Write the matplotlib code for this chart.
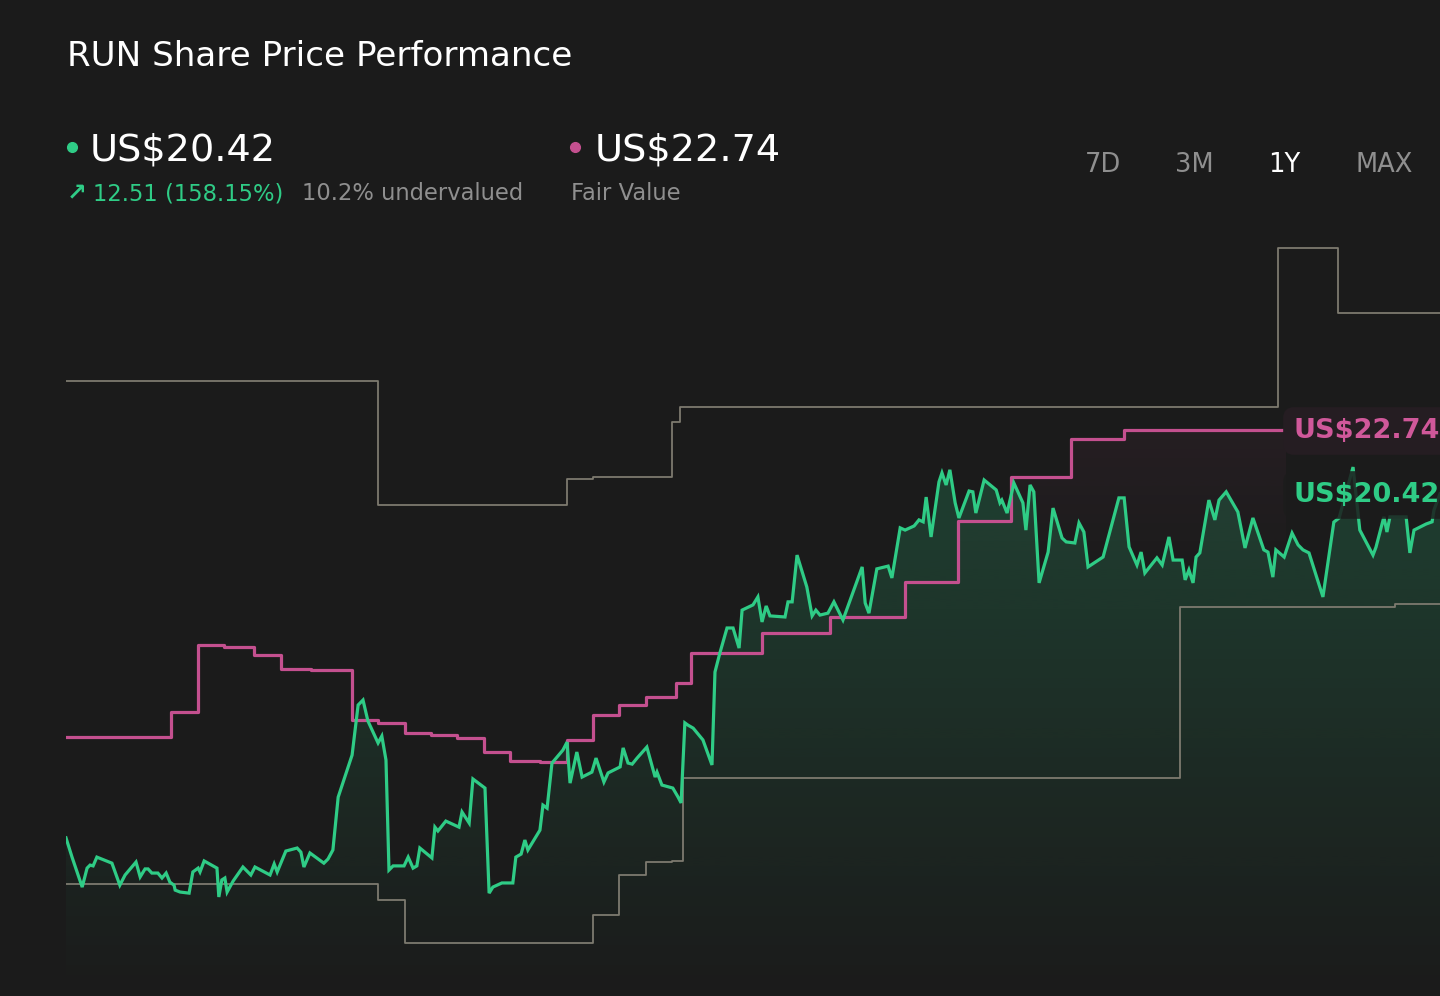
import numpy as np
import matplotlib.pyplot as plt
from matplotlib.colors import to_rgb
from matplotlib.lines import Line2D

W, H = 1440, 996
BG = '#1b1b1b'
GREEN = '#2fcc86'
PINK = '#c4508f'
GRAY_LINE = '#7d7a6f'
GRAY_TEXT = '#8f8f8f'

# share price (day of the year, US$)
price_days = [0, 1.6, 4.3, 5.6, 6.4, 7.2, 8.2, 12.2, 14.3, 15.7, 18.6, 19.7, 21.0, 21.8, 22.8,
              24.4, 25.5, 26.6, 27.6, 28.7, 29.0, 30.3, 32.7, 33.7, 35.1, 35.6, 36.7, 40.1, 40.6,
              41.4, 42.2, 42.8, 44.4, 47.0, 49.1, 50.2, 54.2, 55.3, 56.1, 58.4, 61.4, 62.4, 63.2,
              64.8, 68.5, 69.6, 70.9, 72.3, 76.0, 77.6, 78.9, 80.2, 82.9, 83.9, 85.0, 85.8, 86.9,
              89.8, 90.9, 92.2, 93.2, 94.0, 97.2, 98.0, 98.8, 100.9, 104.4, 105.2, 107.1, 108.1,
              111.3, 112.4, 113.4, 115.8, 118.7, 119.5, 120.9, 121.9, 122.7, 125.9, 126.7, 127.8,
              129.1, 132.0, 133.1, 133.9, 135.7, 137.1, 139.7, 140.8, 142.9, 144.0, 147.2, 148.0,
              149.3, 150.4, 151.7, 154.3, 156.5, 157.0, 158.3, 161.2, 162.6, 163.4, 164.4, 165.2,
              166.6, 169.2, 171.6, 172.4, 173.7, 175.6, 177.2, 178.8, 179.6, 182.5, 183.8, 184.9,
              186.0, 187.0, 191.0, 191.8, 192.9, 194.2, 196.8, 198.2, 199.2, 200.3, 202.4, 204.0,
              206.4, 211.5, 212.3, 213.3, 215.4, 218.4, 219.4, 221.6, 222.9, 225.3, 226.6, 227.7,
              228.5, 229.8, 231.9, 232.7, 233.8, 234.8, 236.2, 237.2, 239.9, 240.9, 241.7, 243.9,
              247.1, 248.1, 248.6, 250.0, 251.8, 254.2, 255.0, 256.1, 257.1, 258.5, 260.9, 262.2,
              264.6, 265.7, 268.0, 269.1, 270.4, 271.5, 275.5, 279.7, 281.1, 282.4, 284.5, 285.6,
              286.6, 289.8, 291.2, 293.0, 294.1, 296.5, 297.3, 298.3, 299.4, 300.2, 301.2, 303.6,
              305.2, 306.3, 308.2, 311.3, 313.2, 315.3, 318.2, 319.3, 320.6, 321.4, 323.6, 325.7,
              327.3, 328.6, 330.2, 333.9, 336.8, 338.2, 341.9, 343.7, 347.2, 348.0, 350.1, 350.9,
              351.7, 356.0, 357.0, 358.1, 361.3, 362.9, 363.4, 365]
price = [7.91, 7.21, 6.12, 6.81, 6.92, 6.89, 7.21, 6.99, 6.19, 6.56, 7.03, 6.49, 6.78, 6.78, 6.63,
         6.63, 6.45, 6.63, 6.30, 6.19, 6.01, 5.94, 5.90, 6.67, 6.81, 6.67, 7.07, 6.81, 5.76,
         6.38, 6.45, 5.94, 6.34, 6.85, 6.56, 6.85, 6.56, 6.96, 6.67, 7.43, 7.54, 7.39, 6.85,
         7.36, 6.99, 7.14, 7.47, 9.39, 10.92, 12.74, 12.92, 12.16, 11.36, 11.61, 10.74, 6.74, 6.89,
         6.89, 7.21, 6.81, 6.89, 7.54, 7.18, 8.30, 8.16, 8.52, 8.30, 8.85, 8.45, 10.05,
         9.72, 5.90, 6.12, 6.27, 6.27, 7.21, 7.32, 7.83, 7.47, 8.19, 9.10, 8.99,
         10.63, 11.10, 11.39, 9.90, 11.03, 10.12, 10.30, 10.81, 9.94, 10.27, 10.49, 11.18,
         10.63, 10.59, 10.81, 11.21, 10.12, 10.30, 9.83, 9.72, 9.39, 9.18, 12.09, 12.01,
         11.90, 11.47, 10.56, 13.94, 14.63, 15.54, 15.54, 14.81, 16.19, 16.38, 16.67, 15.76,
         16.34, 15.98, 15.94, 16.49, 16.49, 18.19, 17.03, 15.98, 16.19, 16.01, 16.08, 16.49,
         15.83, 17.76, 16.45, 16.08, 17.69, 17.79, 17.36, 19.18, 19.10, 19.25, 19.47, 19.40,
         20.30, 18.85, 20.85, 21.18, 20.74, 21.29, 20.09, 19.54, 20.52, 20.49, 19.72, 20.92,
         20.56, 20.09, 20.19, 19.72, 20.81, 20.09, 19.10, 20.74, 20.49, 17.18, 18.30, 19.90,
         18.81, 18.67, 18.63, 19.36, 19.03, 17.76, 18.12, 20.27, 20.27, 18.49, 17.83, 18.30,
         17.54, 18.09, 17.83, 18.85, 18.01, 18.01, 17.29, 17.65, 17.18, 18.12, 18.27, 20.19,
         19.47, 20.19, 20.49, 19.76, 18.45, 19.54, 18.38, 18.30, 17.39, 18.38, 18.12, 18.99,
         18.56, 18.38, 18.27, 16.67, 19.39, 19.54, 21.39, 19.10, 18.19, 18.48, 19.58, 19.03,
         19.58, 19.58, 18.27, 19.10, 19.32, 19.40, 19.83, 20.42]

# fair value steps (start day of each step, US$)
fv_days = [0, 28, 35, 42, 50, 57, 65, 76, 83, 90, 97, 104, 111, 118, 126, 133, 140, 147, 154,
           162, 166, 185, 203, 223, 237, 251, 267, 281]
fv_vals = [11.58, 12.49, 14.92, 14.85, 14.56, 14.05, 14.01, 12.19, 12.09, 11.72, 11.65, 11.54,
           11.03, 10.70, 10.67, 11.47, 12.38, 12.74, 13.03, 13.54, 14.63, 15.36, 15.94, 17.21,
           19.43, 21.03, 22.41, 22.74]
fv_end = 324

# analyst high / low targets
high_days = [0, 83, 133, 140, 161, 163, 322, 338]
high_vals = [24.52, 20.01, 20.96, 21.03, 23.03, 23.58, 29.36, 26.99]
low_days = [0, 83, 90, 140, 147, 154, 161, 164, 296, 353]
low_vals = [6.23, 5.65, 4.09, 5.10, 6.56, 7.03, 7.07, 10.09, 16.30, 16.41]

YMIN, YMAX = 2.16, 30.01
XMAX = 365


def step_xy(d, v, end):
    return list(d) + [end], list(v) + [v[-1]]


def gradient_fill(ax, x, y, color, a_top, y_top, y_bot, step=None, z=1):
    # vertical fade: a_top at y_top down to transparent at y_bot
    coll = ax.fill_between(x, y, YMIN, facecolor='none', edgecolor='none', step=step)
    n = 256
    img = np.zeros((n, 1, 4))
    img[..., :3] = to_rgb(color)
    img[..., 3] = np.linspace(0, a_top, n)[:, None]
    im = ax.imshow(img, extent=[x[0], x[-1], y_bot, y_top], origin='lower',
                   aspect='auto', zorder=z, interpolation='bilinear')
    im.set_clip_path(coll.get_paths()[0], transform=ax.transData)


fig = plt.figure(figsize=(W / 100, H / 100), dpi=100, facecolor=BG)
ax = fig.add_axes([66 / W, 0, 1 - 66 / W, 1 - 230 / H])
ax.set_facecolor(BG)

fx, fy = step_xy(fv_days, fv_vals, fv_end)
hx, hy = step_xy(high_days, high_vals, XMAX)
lx, ly = step_xy(low_days, low_vals, XMAX)

gradient_fill(ax, fx, fy, PINK, 0.07, 23.0, 17.0, step='post', z=1)
gradient_fill(ax, price_days, price, GREEN, 0.21, 21.5, YMIN, z=2)

ax.step(hx, hy, where='post', color=GRAY_LINE, lw=1.3, zorder=3)
ax.step(lx, ly, where='post', color=GRAY_LINE, lw=1.3, zorder=3)
ax.step(fx, fy, where='post', color=PINK, lw=2.3, zorder=4)
ax.plot(price_days, price, color=GREEN, lw=2.3, zorder=5, solid_joinstyle='miter')

ax.set_xlim(0, XMAX)
ax.set_ylim(YMIN, YMAX)
ax.set_axis_off()


def ftext(x, y, s, **kw):
    kw.setdefault('va', 'baseline')
    return fig.text(x / W, 1 - y / H, s, **kw)


ftext(67, 66, 'RUN Share Price Performance', fontsize=24.6, color='white')

fig.add_artist(Line2D([72 / W], [1 - 147 / H], marker='o', markersize=7, color=GREEN,
                      transform=fig.transFigure))
ftext(90, 161, 'US$20.42', fontsize=27.5, color='white')
ftext(67, 200, '\u2197', fontsize=17, color=GREEN, fontweight='bold')
ftext(93, 200, '12.51 (158.15%)', fontsize=16.3, color=GREEN)
ftext(302, 200, '10.2% undervalued', fontsize=16.3, color=GRAY_TEXT)

fig.add_artist(Line2D([575 / W], [1 - 147 / H], marker='o', markersize=7, color=PINK,
                      transform=fig.transFigure))
ftext(595, 161, 'US$22.74', fontsize=27.5, color='white')
ftext(571, 200, 'Fair Value', fontsize=16.3, color=GRAY_TEXT)

for label, x0, col in [('7D', 1085, GRAY_TEXT), ('3M', 1175, GRAY_TEXT),
                       ('1Y', 1268, 'white'), ('MAX', 1355, GRAY_TEXT)]:
    ftext(x0, 172, label, fontsize=18.5, color=col)

ftext(1294, 438, 'US$22.74', fontsize=19.5, color='#d0589a', fontweight='bold',
      bbox=dict(boxstyle='round,pad=0.4', fc='#251d22', ec='none'))
ftext(1294, 502, 'US$20.42', fontsize=19.5, color=GREEN, fontweight='bold',
      bbox=dict(boxstyle='round,pad=0.4', fc='#1c1c1c', ec='none', alpha=0.85))

fig.savefig('out.png', dpi=100, facecolor=BG)
